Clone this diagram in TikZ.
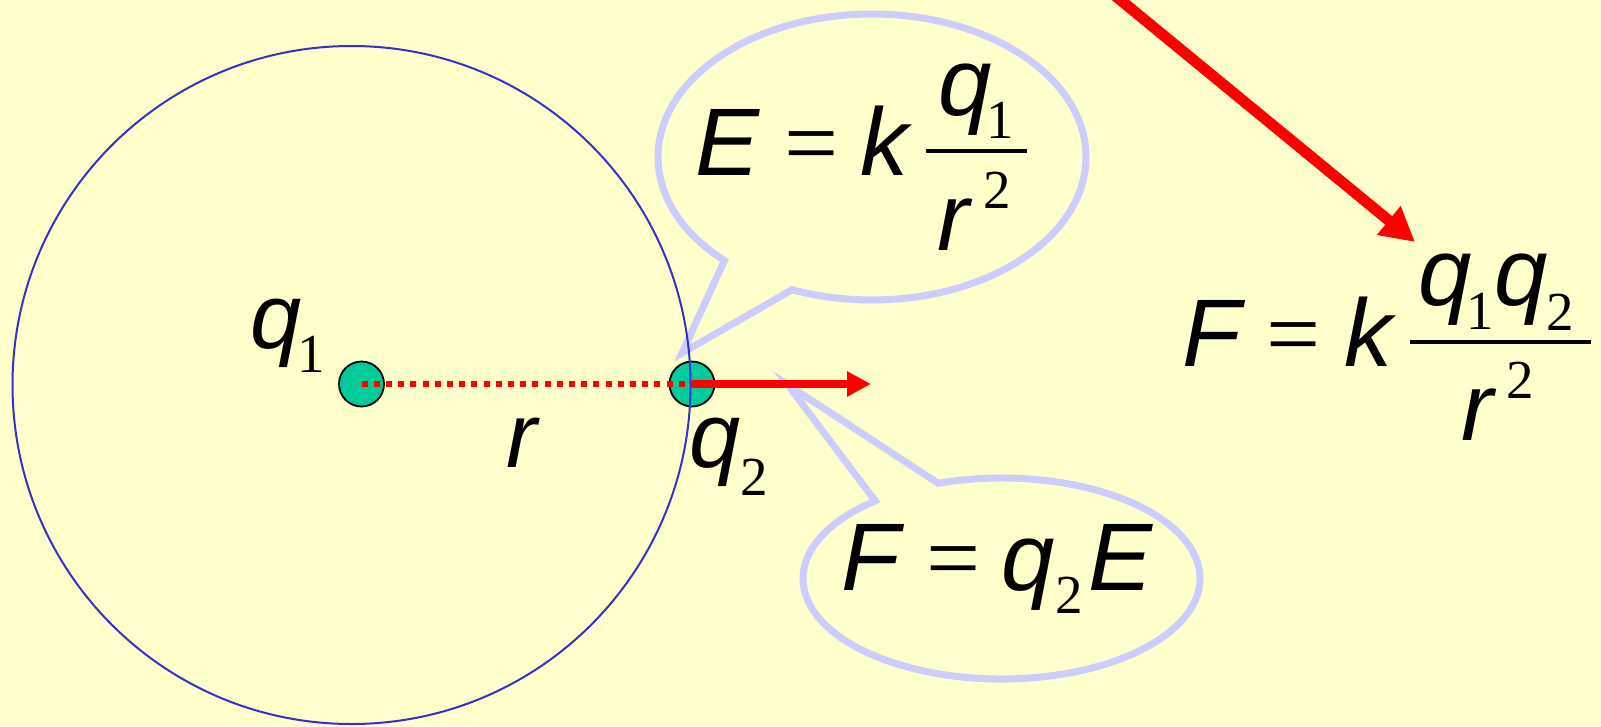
\documentclass[tikz,border=0pt]{standalone}
\usepackage{fontspec}
\usetikzlibrary{arrows.meta,calc}
\newfontfamily\sansF{Liberation Sans}
\newfontfamily\serifF{Liberation Serif}
\newcommand\myVar{\sansF\itshape\fontsize{96}{96}\selectfont}
\newcommand\myLab{\sansF\itshape\fontsize{92}{92}\selectfont}
\newcommand\myOp{\serifF\fontsize{96}{96}\selectfont}
\newcommand\mySub{\serifF\fontsize{55}{55}\selectfont}
\definecolor{bg}{RGB}{255,255,204}
\definecolor{bubble}{RGB}{204,204,255}
\definecolor{sphere}{RGB}{51,51,204}
\definecolor{charge}{RGB}{0,204,153}
\tikzset{
  var/.style={font=\myVar, inner sep=0pt, anchor=base west},
  lab/.style={font=\myLab, inner sep=0pt, anchor=base west},
  op/.style={font=\myOp, inner sep=0pt, anchor=base west},
  idx/.style={font=\mySub, inner sep=0pt, anchor=base west},
  fracbar/.style={line width=4pt, black},
  bubblestyle/.style={draw=bubble, line width=7pt, fill=bg},
  chargedot/.style={circle, draw=black, line width=1.8pt, fill=charge, minimum size=45pt, inner sep=0pt},
  force/.style={red, line width=7.7pt, -{Triangle[length=24pt,width=24pt]}},
  bigforce/.style={red, line width=11pt, -{Triangle[length=34pt,width=35pt]}},
  sepline/.style={red, line width=6pt, dash pattern=on 6pt off 6.2pt},
}
\begin{document}
\begin{tikzpicture}[x=1pt,y=-1pt]
\fill[bg] (0,0) rectangle (1601,726);
\useasboundingbox (0,0) rectangle (1601,726);
\clip (0,0) rectangle (1601,726);

% speech bubble for E
\coordinate (b1c) at (872,157);
\coordinate (b1tip) at (682,353);
\draw[bubblestyle] ($(b1c)+(133.6:214 and 143)$) arc[start angle=133.6, end angle=471.9, x radius=214, y radius=143] -- (b1tip) -- cycle;

% speech bubble for F = q2 E
\coordinate (b2c) at (1001.5,578.5);
\coordinate (b2tip) at (788,385);
\draw[bubblestyle] ($(b2c)+(251.4:198.5 and 100.5)$) arc[start angle=251.4, end angle=590.5, x radius=198.5, y radius=100.5] -- (b2tip) -- cycle;

% charges
\node[chargedot] (q1) at (361.5,384) {};
\node[chargedot] (q2) at (692,384) {};

% sphere
\draw[sphere, line width=2pt] (351.5,385) circle[radius=339];

% distance and force
\draw[sepline] (q1.center) -- (q2.center);
\coordinate (f1) at (871,384);
\draw[force] (q2.center) -- (f1);

% big arrow to Coulomb law
\coordinate (bigstart) at (1090,-25);
\coordinate (bigtip) at (1415,242);
\draw[bigforce] (bigstart) -- (bigtip);

% labels
\node[lab] (lq1) at (250,348) {q};
\node[idx] (lq1i) at (297,372) {1};
\node[lab] (lr) at (506,467) {r};
\node[lab] (lq2) at (689,467) {q};
\node[idx] (lq2i) at (740,495) {2};

% E = k q1 / r^2
\node[var] (aE) at (695,175) {E};
\node[op] (aeq) at (784,175) {=};
\node[var] (ak) at (860,175) {k};
\coordinate (abarL) at (926,151);
\coordinate (abarR) at (1027,151);
\draw[fracbar] (abarL) -- (abarR);
\node[var] (aq) at (938,115) {q};
\node[idx] (aqi) at (986,138) {1};
\node[var] (ar) at (937,250) {r};
\node[idx] (ar2) at (983,208) {2};

% F = k q1 q2 / r^2
\node[var] (bF) at (1182,366) {F};
\node[op] (beq) at (1266,366) {=};
\node[var] (bk) at (1344,366) {k};
\coordinate (bbarL) at (1410,342);
\coordinate (bbarR) at (1591,342);
\draw[fracbar] (bbarL) -- (bbarR);
\node[var] (bq1) at (1418,305) {q};
\node[idx] (bq1i) at (1466,329) {1};
\node[var] (bq2) at (1494,305) {q};
\node[idx] (bq2i) at (1546,330) {2};
\node[var] (br) at (1461,440) {r};
\node[idx] (br2) at (1506,398) {2};

% F = q2 E
\node[var] (cF) at (841,590) {F};
\node[op] (ceq) at (926,590) {=};
\node[var] (cq) at (1001,590) {q};
\node[idx] (cqi) at (1055,613) {2};
\node[var] (cE) at (1088,590) {E};
\end{tikzpicture}
\end{document}
